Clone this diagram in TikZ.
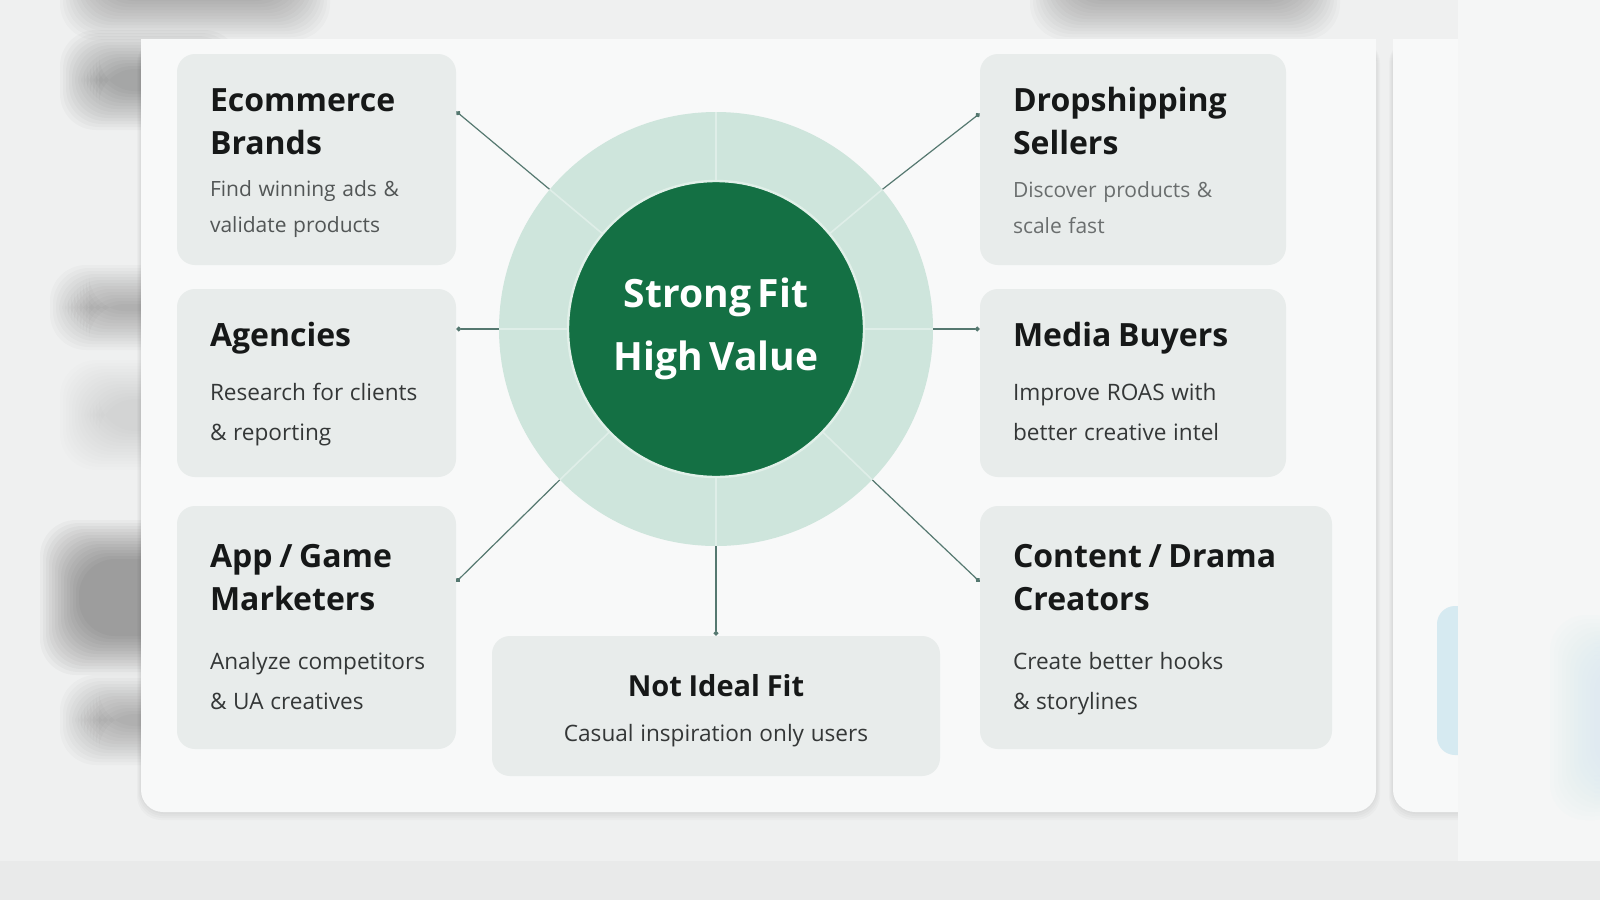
\documentclass[tikz,border=0pt]{standalone}
\usepackage{fontspec}
\setmainfont{Open Sans}
\usetikzlibrary{positioning, arrows.meta, calc}

\definecolor{pagebg}{RGB}{239,240,240}
\definecolor{sidebg}{RGB}{245,246,246}
\definecolor{floorbg}{RGB}{233,234,234}
\definecolor{cardbg}{RGB}{248,249,249}
\definecolor{tilebg}{RGB}{232,236,235}
\definecolor{paleblue}{RGB}{214,234,241}
\definecolor{ringgreen}{RGB}{206,229,220}
\definecolor{coregreen}{RGB}{20,112,68}
\definecolor{corerim}{RGB}{225,240,233}
\definecolor{linkgray}{RGB}{85,120,112}
\definecolor{headink}{RGB}{22,24,24}
\definecolor{subink}{RGB}{52,55,55}
\definecolor{subsoft}{RGB}{82,86,86}
\definecolor{subfade}{RGB}{106,110,110}

\newcommand{\tilehead}{\fontsize{16}{21.5}\selectfont\bfseries\color{headink}}
\newcommand{\tilesub}[2]{\fontsize{#1}{#2}\selectfont\normalfont\color{subink}}
\newcommand{\corefont}{\fontsize{19.5}{31.5}\selectfont\bfseries}

\begin{document}
\begin{tikzpicture}[
    x=0.5pt, y=-0.5pt,
    haze/.style={fill=black, rounded corners=18pt},
    tile/.style={rectangle, rounded corners=9pt, fill=tilebg, inner sep=0pt},
    tiletext/.style={anchor=north west, align=left, inner sep=0pt, text width=150pt},
    link/.style={draw=linkgray, line width=0.6pt, -{Circle[length=2.4pt]}},
    ringline/.style={draw=white, opacity=0.35, line width=0.8pt}
]

% canvas
\useasboundingbox (0,0) rectangle (1600,900);
\fill[pagebg] (0,0) rectangle (1600,900);

% blurred shapes behind the card
\foreach \xa/\ya/\xb/\yb/\op in {60/30/240/130/0.024, 50/265/240/350/0.018, 60/360/240/470/0.008,
    40/520/240/675/0.028, 60/675/240/765/0.019, 60/-70/330/40/0.018, 1030/-70/1340/40/0.018}{
  \foreach \k in {0,...,13}{
    \fill[haze, opacity=\op] ({\xa+3*\k},{\ya+3*\k}) rectangle ({\xb-3*\k},{\yb-3*\k});
  }
}

% card shadows and cards
\foreach \k in {1,...,4}{
  \fill[black, opacity=0.02, rounded corners=12pt] ({141-\k},39) rectangle ({1376+\k},{812+2*\k});
  \fill[black, opacity=0.02, rounded corners=12pt] ({1393-\k},39) rectangle (1500,{812+2*\k});
}
\fill[cardbg, rounded corners=11pt] (141,39) rectangle (1376,812);
\fill[cardbg] (141,39) rectangle (1376,80);
\fill[cardbg, rounded corners=11pt] (1393,39) rectangle (1500,812);
\fill[cardbg] (1393,39) rectangle (1500,80);
\fill[paleblue, rounded corners=9pt] (1437,606) rectangle (1500,755);

% right side and floor
\fill[sidebg] (1458,0) rectangle (1600,861);
\foreach \k in {0,...,11}{
  \fill[paleblue, opacity=0.07, rounded corners=18pt] ({1550+4*\k},{615+4*\k}) rectangle (1630,{820-4*\k});
}
\fill[floorbg] (0,861) rectangle (1600,900);

% audience tiles
\node[tile, minimum width=139.5pt, minimum height=105.5pt] (eco) at (316.5,159.5) {};
\node[tile, minimum width=139.5pt, minimum height=94pt] (agen) at (316.5,383) {};
\node[tile, minimum width=139.5pt, minimum height=121.5pt] (app) at (316.5,627.5) {};
\node[tile, minimum width=153pt, minimum height=105.5pt] (drop) at (1133,159.5) {};
\node[tile, minimum width=153pt, minimum height=94pt] (media) at (1133,383) {};
\node[tile, minimum width=176pt, minimum height=121.5pt] (content) at (1156,627.5) {};
\node[tile, minimum width=224pt, minimum height=70pt] (notfit) at (716,706) {};

% tile texts
\node[tiletext] (ecotext) at ([xshift=16.5pt, yshift=-17.5pt]eco.north west)
  {\tilehead Ecommerce\\Brands\\[3pt]\tilesub{10.5}{17.8}\color{subsoft}Find winning ads \&\\validate products\par};
\node[tiletext] (agentext) at ([xshift=16.5pt, yshift=-16.5pt]agen.north west)
  {\tilehead Agencies\\[7.3pt]\tilesub{11.3}{20}Research for clients\\\& reporting\par};
\node[tiletext] (apptext) at ([xshift=16.5pt, yshift=-19pt]app.north west)
  {\tilehead App / Game\\Marketers\\[9.8pt]\tilesub{11.3}{20}Analyze competitors\\\& UA creatives\par};
\node[tiletext] (droptext) at ([xshift=16.5pt, yshift=-16.5pt]drop.north west)
  {\tilehead Dropshipping\\Sellers\\[4pt]\tilesub{10.5}{17.8}\color{subfade}Discover products \&\\scale fast\par};
\node[tiletext] (mediatext) at ([xshift=16.5pt, yshift=-16.5pt]media.north west)
  {\tilehead Media Buyers\\[7.3pt]\tilesub{11.3}{20}Improve ROAS with\\better creative intel\par};
\node[tiletext] (contenttext) at ([xshift=16.5pt, yshift=-19pt]content.north west)
  {\tilehead Content / Drama\\Creators\\[9.8pt]\tilesub{11.3}{20}Create better hooks\\\& storylines\par};
\node[anchor=north, align=center, inner sep=0pt, text width=204pt] (notfittext) at ([yshift=-19pt]notfit.north)
  {\fontsize{14.5}{18}\selectfont\bfseries\color{headink}Not Ideal Fit\\[6.5pt]
   \tilesub{11.3}{16}Casual inspiration only users\par};

% centre: ring and core
\node[circle, fill=ringgreen, minimum size=217pt] (ring) at (716,329) {};
\foreach \a in {0,40,90,140,180,224,270,316}
  \draw[ringline] (ring.center) -- (ring.\a);
\node[circle, fill=coregreen, draw=corerim, line width=1.2pt, minimum size=148pt,
      align=center, text width=112pt, text=white] (core) at (ring.center) {\corefont Strong Fit\\High Value\par};

% connectors
\draw[link] (ring.140) -- ($(eco.north east)+(0,58)$);
\draw[link] (ring.40) -- ($(drop.north west)+(0,60)$);
\draw[link] (ring.180) -- (ring.180 -| agen.east);
\draw[link] (ring.0) -- (ring.0 -| media.west);
\draw[link] (ring.224) -- ($(app.north east)+(0,76)$);
\draw[link] (ring.316) -- ($(content.north west)+(0,76)$);
\draw[link] (ring.south) -- (notfit.north);

\end{tikzpicture}
\end{document}
